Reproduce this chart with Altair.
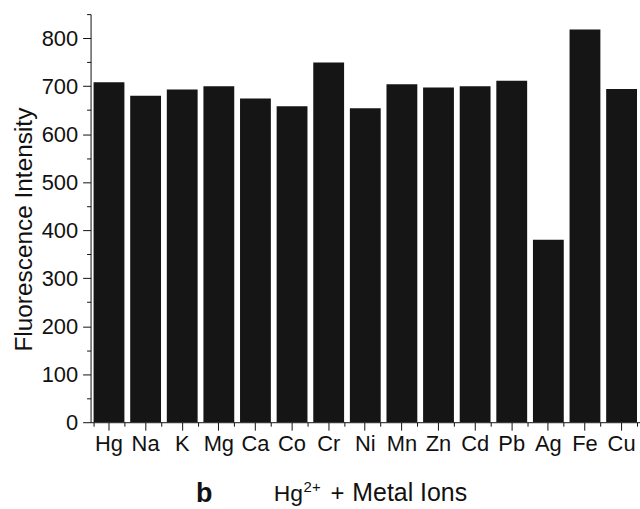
import altair as alt
import pandas as pd

ions = ["Hg", "Na", "K", "Mg", "Ca", "Co", "Cr", "Ni", "Mn", "Zn", "Cd", "Pb", "Ag", "Fe", "Cu"]
intensity = [708, 680, 693, 700, 674, 658, 749, 654, 704, 697, 700, 711, 380, 818, 694]
major_ticks = [0, 100, 200, 300, 400, 500, 600, 700, 800]
minor_ticks = [50, 150, 250, 350, 450, 550, 650, 750, 850]

df = pd.DataFrame({"ion": ions, "value": intensity})

FONT = "Liberation Sans"
FS = 22
INK = "#111111"

xscale = alt.Scale(domain=ions, paddingInner=0.158, paddingOuter=0.082)
yscale = alt.Scale(domain=[0, 850], nice=False)

bars = alt.Chart(df).mark_bar(color="#151515").encode(
    x=alt.X("ion:N", scale=xscale, sort=ions,
            axis=alt.Axis(title=None, labelAngle=0, labelFontSize=FS, labelFont=FONT,
                          labelColor=INK, tickSize=8, tickColor=INK, domainColor=INK,
                          labelPadding=3, orient="bottom")),
    y=alt.Y("value:Q", scale=yscale,
            axis=alt.Axis(title="Fluorescence Intensity", values=major_ticks, grid=False,
                          titleFontSize=24.5, titleFont=FONT, titleFontWeight="normal",
                          titleColor=INK, labelFontSize=FS, labelFont=FONT, labelColor=INK,
                          tickSize=8, tickColor=INK, domainColor=INK, titlePadding=5,
                          titleY=216, labelPadding=5, orient="left")),
)

minor_x = alt.Chart(df).mark_bar(opacity=0).encode(
    x=alt.X("ion:N", scale=xscale, sort=ions,
            axis=alt.Axis(title=None, labels=False, domain=False, tickBand="extent",
                          tickSize=4, tickColor=INK, orient="bottom")),
    y=alt.Y("value:Q", scale=yscale,
            axis=alt.Axis(title=None, labels=False, domain=False, values=minor_ticks,
                          grid=False, tickSize=4, tickColor=INK, orient="left")),
)


def note(txt, x, y, size, weight="normal"):
    d = pd.DataFrame({"t": [txt]})
    return alt.Chart(d).mark_text(font=FONT, fontSize=size, fontWeight=weight,
                                  align="left", baseline="alphabetic", color=INK).encode(
        text="t:N", x=alt.value(x), y=alt.value(y))


b_text = note("b", 106, 490, 27, "bold")
hg_text = note("Hg", 184, 489, 23)
sup_text = note("2+", 214, 480, 15)
plus_text = note("+", 241, 489, 24)
metal_text = note("Metal Ions", 263, 489, 25)

chart = alt.layer(bars, minor_x, b_text, hg_text, sup_text, plus_text,
                  metal_text).resolve_axis(
    x="independent", y="independent"
).properties(
    width=552, height=410,
    padding={"left": 91, "top": 13, "right": 0, "bottom": 86},
    autosize=alt.AutoSizeParams(type="none"),
).configure_view(stroke=None)

chart.save("out.html", embed_options={"renderer": "svg", "actions": False})
